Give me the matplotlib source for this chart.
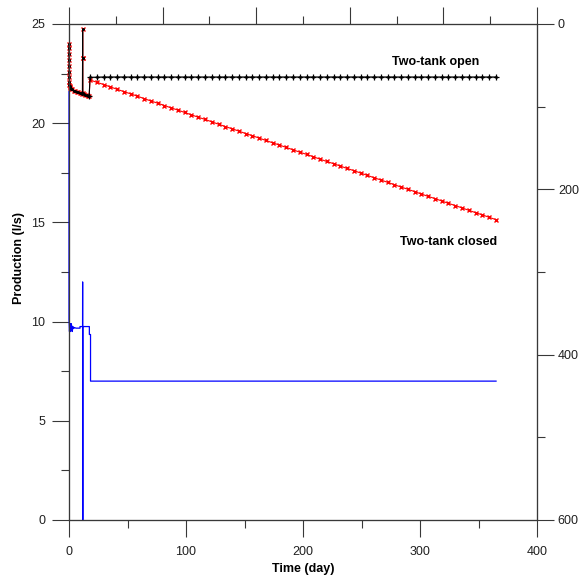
import numpy as np
import matplotlib
matplotlib.use("Agg")
import matplotlib.pyplot as plt
from matplotlib.ticker import MultipleLocator, NullFormatter

plt.rcParams['font.family'] = ['Liberation Sans', 'DejaVu Sans']

# early part (identical for both runs)
early_days = [0.0, 0.02, 0.05, 0.08, 0.12, 0.16, 0.2, 0.3, 0.4, 0.6, 0.8, 1.0, 1.5,
              2.5, 4.0, 5.0, 6.5, 7.7, 9.0, 10.3, 11.5, 11.6, 11.65, 11.7, 11.8,
              12.8, 14.0, 15.4, 16.5, 17.2]
early_prod = [24.0, 23.8, 23.5, 23.2, 22.9, 22.6, 22.35, 22.1, 21.95, 21.85, 21.8, 21.75, 21.72,
              21.7, 21.62, 21.6, 21.57, 21.55, 21.52, 21.5, 21.48, 23.3, 24.75, 23.3, 21.5,
              21.45, 21.42, 21.4, 21.37, 21.35]

# later part, one point every ~5.8 days
late_days = [18.0, 23.8, 29.6, 35.3, 41.1, 46.9, 52.7, 58.5, 64.2, 70.0,
             75.8, 81.6, 87.4, 93.1, 98.9, 104.7, 110.5, 116.3, 122.0, 127.8,
             133.6, 139.4, 145.2, 150.9, 156.7, 162.5, 168.3, 174.1, 179.8, 185.6,
             191.4, 197.2, 203.0, 208.7, 214.5, 220.3, 226.1, 231.9, 237.6, 243.4,
             249.2, 255.0, 260.8, 266.5, 272.3, 278.1, 283.9, 289.7, 295.4, 301.2,
             307.0, 312.8, 318.6, 324.3, 330.1, 335.9, 341.7, 347.5, 353.2, 359.0,
             364.8]
closed_late = [22.18, 22.06, 21.95, 21.83, 21.71, 21.59, 21.48, 21.36, 21.24, 21.12,
               21.01, 20.89, 20.77, 20.66, 20.54, 20.42, 20.30, 20.19, 20.07, 19.95,
               19.83, 19.72, 19.60, 19.48, 19.37, 19.25, 19.13, 19.01, 18.90, 18.78,
               18.66, 18.54, 18.43, 18.31, 18.19, 18.07, 17.96, 17.84, 17.72, 17.61,
               17.49, 17.37, 17.25, 17.14, 17.02, 16.90, 16.78, 16.67, 16.55, 16.43,
               16.31, 16.20, 16.08, 15.96, 15.85, 15.73, 15.61, 15.49, 15.38, 15.26,
               15.14]
open_late = [22.31, 22.32, 22.33, 22.33, 22.33, 22.33, 22.33, 22.33, 22.33, 22.33,
             22.33, 22.33, 22.33, 22.33, 22.33, 22.33, 22.33, 22.33, 22.33, 22.33,
             22.33, 22.33, 22.33, 22.33, 22.33, 22.33, 22.33, 22.33, 22.33, 22.33,
             22.33, 22.33, 22.33, 22.33, 22.33, 22.33, 22.33, 22.33, 22.33, 22.33,
             22.33, 22.33, 22.33, 22.33, 22.33, 22.33, 22.33, 22.33, 22.33, 22.33,
             22.33, 22.33, 22.33, 22.33, 22.33, 22.33, 22.33, 22.33, 22.33, 22.33,
             22.33]

# measured production (blue)
meas_days = [0.0, 0.0, 0.4, 0.8, 1.3, 1.8, 2.3, 2.8, 3.3, 4.0, 4.6, 6.0, 9.4, 9.4,
             11.6, 11.65, 11.7, 11.9, 11.9, 17.4, 17.4, 18.4, 18.4, 365.0]
meas_prod = [21.6, 10.1, 9.5, 9.9, 9.5, 9.9, 9.8, 9.5, 9.75, 9.65, 9.7, 9.67, 9.67, 9.75,
             9.75, 12.0, 0.0, 0.0, 9.75, 9.75, 9.35, 9.35, 7.0, 7.0]

axcol = '#383838'
labcol = '#202020'

fig = plt.figure(figsize=(5.87, 5.78), dpi=100)
ax = fig.add_axes([69/587, 1 - 520/578, 468/587, 496/578])

ax.plot(meas_days, meas_prod, color='#0000ff', lw=0.9, clip_on=False, zorder=2)

closed_t = early_days + late_days
closed_q = early_prod + closed_late
open_t = early_days + late_days
open_q = early_prod + open_late
n_early = len(early_days)
ax.plot(closed_t, closed_q, color='red', lw=0.8, marker='x', ms=3, mew=1.0,
        clip_on=False, zorder=3)
ax.plot(open_t[:n_early], open_q[:n_early], color='black', lw=0.8,
        clip_on=False, zorder=4)
ax.plot(open_t[n_early - 1:], open_q[n_early - 1:], color='black', lw=0.8,
        marker='+', ms=4, mew=0.9, clip_on=False, zorder=4)
ax.plot(open_t, open_q, ls='none', color='black',
        marker='.', ms=2.2, clip_on=False, zorder=4)

ax.set_xlim(0, 400)
ax.set_ylim(0, 25)
ax.xaxis.set_major_locator(MultipleLocator(100))
ax.xaxis.set_minor_locator(MultipleLocator(50))
ax.yaxis.set_major_locator(MultipleLocator(5))
ax.yaxis.set_minor_locator(MultipleLocator(2.5))

# right axis
ax2 = ax.twinx()
ax2.set_ylim(600, 0)
ax2.yaxis.set_major_locator(MultipleLocator(200))
ax2.yaxis.set_minor_locator(MultipleLocator(100))

# top axis, ticks only
ax3 = ax.twiny()
ax3.set_xlim(0, 10)
ax3.xaxis.set_major_locator(MultipleLocator(2))
ax3.xaxis.set_minor_locator(MultipleLocator(1))
ax3.xaxis.set_major_formatter(NullFormatter())

for a in (ax, ax2, ax3):
    for s in a.spines.values():
        s.set_color(axcol)
        s.set_linewidth(0.8)
    a.tick_params(which='major', direction='out', length=12, width=0.8, color=axcol,
                  labelsize=9, labelcolor=labcol)
    a.tick_params(which='minor', direction='out', length=6, width=0.8, color=axcol)
ax.tick_params(axis='y', which='major', pad=5)
ax.tick_params(axis='x', which='major', pad=7)
ax2.tick_params(axis='y', which='major', pad=3)
ax3.tick_params(axis='x', labeltop=False)

ax.text(313, 23.08, 'Two-tank open', fontsize=9, fontweight='bold', ha='center', va='center')
ax.text(366, 14.0, 'Two-tank closed', fontsize=9, fontweight='bold', ha='right', va='center')

fig.text(19/587, 1 - 258/578, 'Production (l/s)', rotation=90, fontsize=9,
         fontweight='bold', ha='center', va='center')
fig.text(303/587, 1 - 569/578, 'Time (day)', fontsize=9, fontweight='bold',
         ha='center', va='center')

fig.savefig('out.png', dpi=100)
